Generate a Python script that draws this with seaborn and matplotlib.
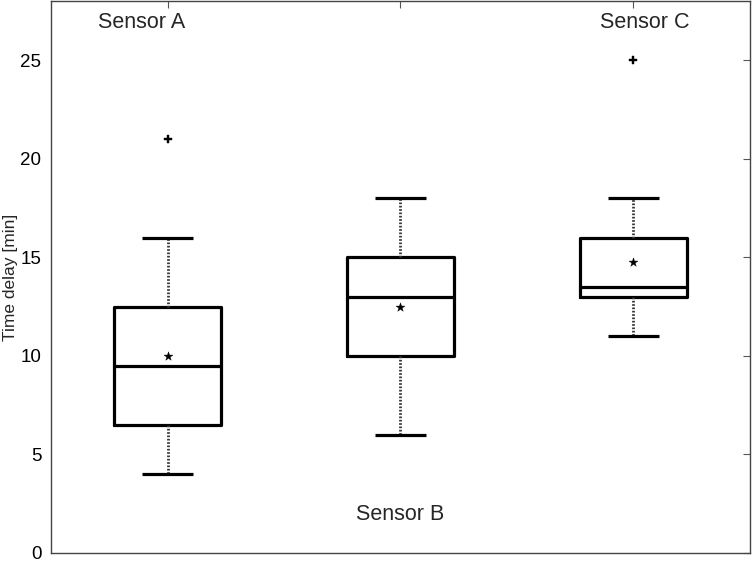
import numpy as np
import matplotlib
matplotlib.use('Agg')
import matplotlib.pyplot as plt
import seaborn as sns

sns.set_style('white')
plt.rcParams['font.family'] = ['Liberation Sans', 'DejaVu Sans']

# box statistics
sensors = ['Sensor A', 'Sensor B', 'Sensor C']
whislo = [4, 6, 11]
q1 = [6.5, 10, 13]
med = [9.5, 13, 13.5]
q3 = [12.5, 15, 16]
whishi = [16, 18, 18]
means = [10, 12.5, 14.75]
outliers = [[21], [], [25]]

# label positions (data coords)
label_x = [0.89, 2.0, 3.05]
label_y = [26.9, 1.95, 26.9]

stats = []
for i in range(len(sensors)):
    stats.append({'label': sensors[i], 'whislo': whislo[i], 'q1': q1[i], 'med': med[i],
                  'q3': q3[i], 'whishi': whishi[i], 'fliers': []})

fig = plt.figure(figsize=(7.52, 5.61), dpi=100)
ax = fig.add_axes([0.068, 0.0143, 0.929, 0.984])

ax.bxp(stats, positions=[1, 2, 3], widths=0.46, showfliers=False,
       boxprops=dict(color='black', linewidth=2.3),
       medianprops=dict(color='black', linewidth=2.3),
       whiskerprops=dict(color='#333333', linewidth=2.0, linestyle=(0, (0.6, 0.6))),
       capprops=dict(color='black', linewidth=2.3, solid_capstyle='butt'),
       capwidths=0.22)

sns.scatterplot(x=[1, 2, 3], y=means, marker='*', color='black', s=45, ax=ax, zorder=5,
                edgecolor='black', linewidth=0.3)
ox = [i + 1 for i in range(len(outliers)) for v in outliers[i]]
oy = [v for vals in outliers for v in vals]
sns.scatterplot(x=ox, y=oy, marker='P', color='black', s=40, ax=ax, zorder=5,
                edgecolor='black', linewidth=0.3)

for i, name in enumerate(sensors):
    ax.text(label_x[i], label_y[i], name, ha='center', va='center', fontsize=15.5)

ax.set_xlim(0.5, 3.5)
ax.set_ylim(0, 28)
ax.set_yticks([0, 5, 10, 15, 20, 25])
ax.set_xticks([1, 2, 3])
ax.set_xticklabels([])
ax.set_ylabel('Time delay [min]', fontsize=12.5)
ax.yaxis.set_label_coords(-0.047, 0.5)
ax.tick_params(axis='both', direction='in', length=5, width=0.8, colors='#555555',
               labelcolor='black', labelsize=13.5, top=True, right=True, pad=7)
for sp in ax.spines.values():
    sp.set_color('#444444')
    sp.set_linewidth(1.0)

fig.savefig('out.png', dpi=100)
